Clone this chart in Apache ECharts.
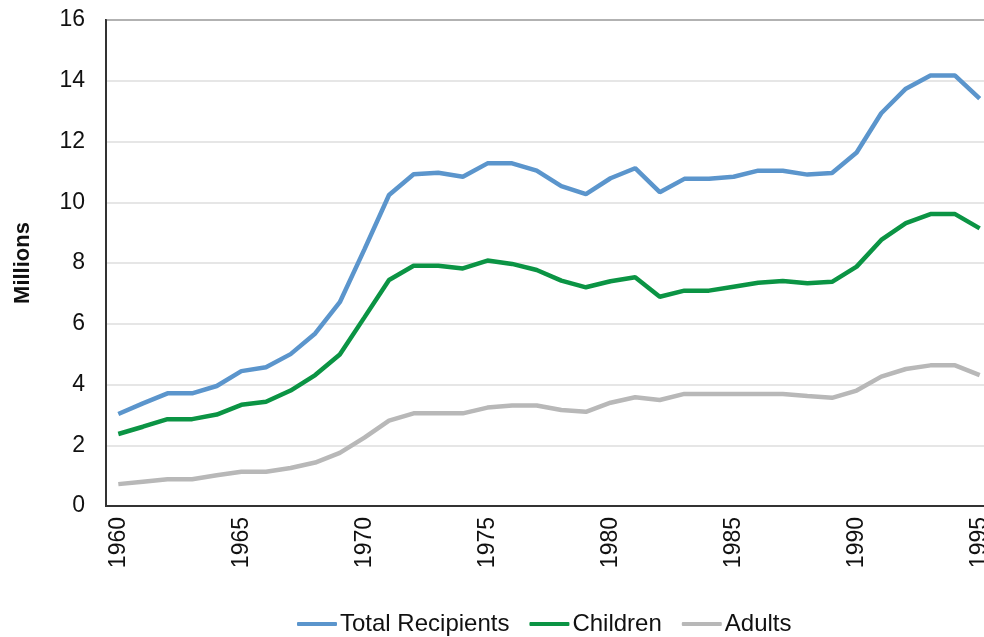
<!DOCTYPE html>
<html>
<head>
<meta charset="utf-8">
<style>
  html, body { margin: 0; padding: 0; background: #ffffff; }
  #chart { width: 984px; height: 637px; }
</style>
<script src="https://cdn.jsdelivr.net/npm/echarts@6/dist/echarts.min.js"></script>
</head>
<body>
<div id="chart"></div>
<script>
// AFDC recipients, 1960–1995 (millions)
const years = [];
for (let y = 1960; y <= 1995; y++) years.push(String(y));

const totalRecipients = [
  3.03, 3.38, 3.71, 3.71, 3.95, 4.44, 4.57, 5.00, 5.68, 6.71,
  8.45, 10.24, 10.92, 10.97, 10.84, 11.28, 11.28, 11.04, 10.53, 10.27,
  10.79, 11.12, 10.33, 10.77, 10.77, 10.84, 11.04, 11.04, 10.91, 10.96,
  11.64, 12.93, 13.74, 14.17, 14.17, 13.41
];
const children = [
  2.37, 2.61, 2.86, 2.86, 3.01, 3.33, 3.43, 3.80, 4.31, 4.99,
  6.21, 7.44, 7.91, 7.91, 7.82, 8.08, 7.97, 7.77, 7.42, 7.20,
  7.40, 7.53, 6.89, 7.09, 7.09, 7.22, 7.35, 7.41, 7.33, 7.38,
  7.88, 8.76, 9.31, 9.61, 9.61, 9.14
];
const adults = [
  0.72, 0.80, 0.88, 0.88, 1.01, 1.13, 1.13, 1.25, 1.43, 1.75,
  2.25, 2.81, 3.05, 3.05, 3.05, 3.24, 3.31, 3.31, 3.16, 3.10,
  3.40, 3.58, 3.49, 3.69, 3.69, 3.69, 3.69, 3.69, 3.62, 3.56,
  3.80, 4.26, 4.51, 4.63, 4.63, 4.31
];

const FONT = '"Liberation Sans", Arial, Helvetica, sans-serif';
const chart = echarts.init(document.getElementById('chart'), null, { renderer: 'canvas' });

function lineSeries(name, data, color) {
  return {
    name: name,
    type: 'line',
    data: data,
    symbol: 'none',
    showSymbol: false,
    smooth: false,
    lineStyle: { color: color, width: 4.5 },
    itemStyle: { color: color },
    emphasis: { disabled: true }
  };
}

chart.setOption({
  animation: false,
  backgroundColor: '#ffffff',
  grid: {
    left: 106,
    top: 20,
    width: 886,
    bottom: 131,
    containLabel: false,
    outerBoundsMode: 'none',
    show: true,
    borderColor: '#333333',
    borderWidth: 2,
    backgroundColor: 'transparent'
  },
  legend: {
    left: 297,
    top: 612,
    padding: 0,
    icon: 'roundRect',
    itemWidth: 40,
    itemHeight: 4,
    itemGap: 20,
    textStyle: { fontFamily: FONT, fontSize: 24, color: '#111111', padding: [0, 0, 0, -2] },
    data: ['Total Recipients', 'Children', 'Adults']
  },
  xAxis: {
    type: 'category',
    data: years,
    boundaryGap: true,
    axisLine: { show: true, lineStyle: { color: '#333333', width: 2 } },
    axisTick: { show: false },
    axisLabel: {
      interval: 4,
      rotate: 90,
      margin: 11,
      fontFamily: FONT,
      fontSize: 23,
      color: '#111111'
    },
    splitLine: { show: false }
  },
  yAxis: {
    type: 'value',
    min: 0,
    max: 16,
    interval: 2,
    name: 'Millions',
    nameLocation: 'middle',
    nameGap: 72,
    nameTextStyle: { fontFamily: FONT, fontSize: 22, fontWeight: 'bold', color: '#111111' },
    axisLine: { show: true, lineStyle: { color: '#333333', width: 2 } },
    axisTick: { show: false },
    axisLabel: { margin: 21, fontFamily: FONT, fontSize: 23, color: '#111111' },
    splitLine: { show: true, lineStyle: { color: '#dedede', width: 1.5 } }
  },
  series: [
    lineSeries('Total Recipients', totalRecipients, '#5b95cc'),
    lineSeries('Children', children, '#0b9444'),
    lineSeries('Adults', adults, '#b8b8b8')
  ]
});
</script>
</body>
</html>
